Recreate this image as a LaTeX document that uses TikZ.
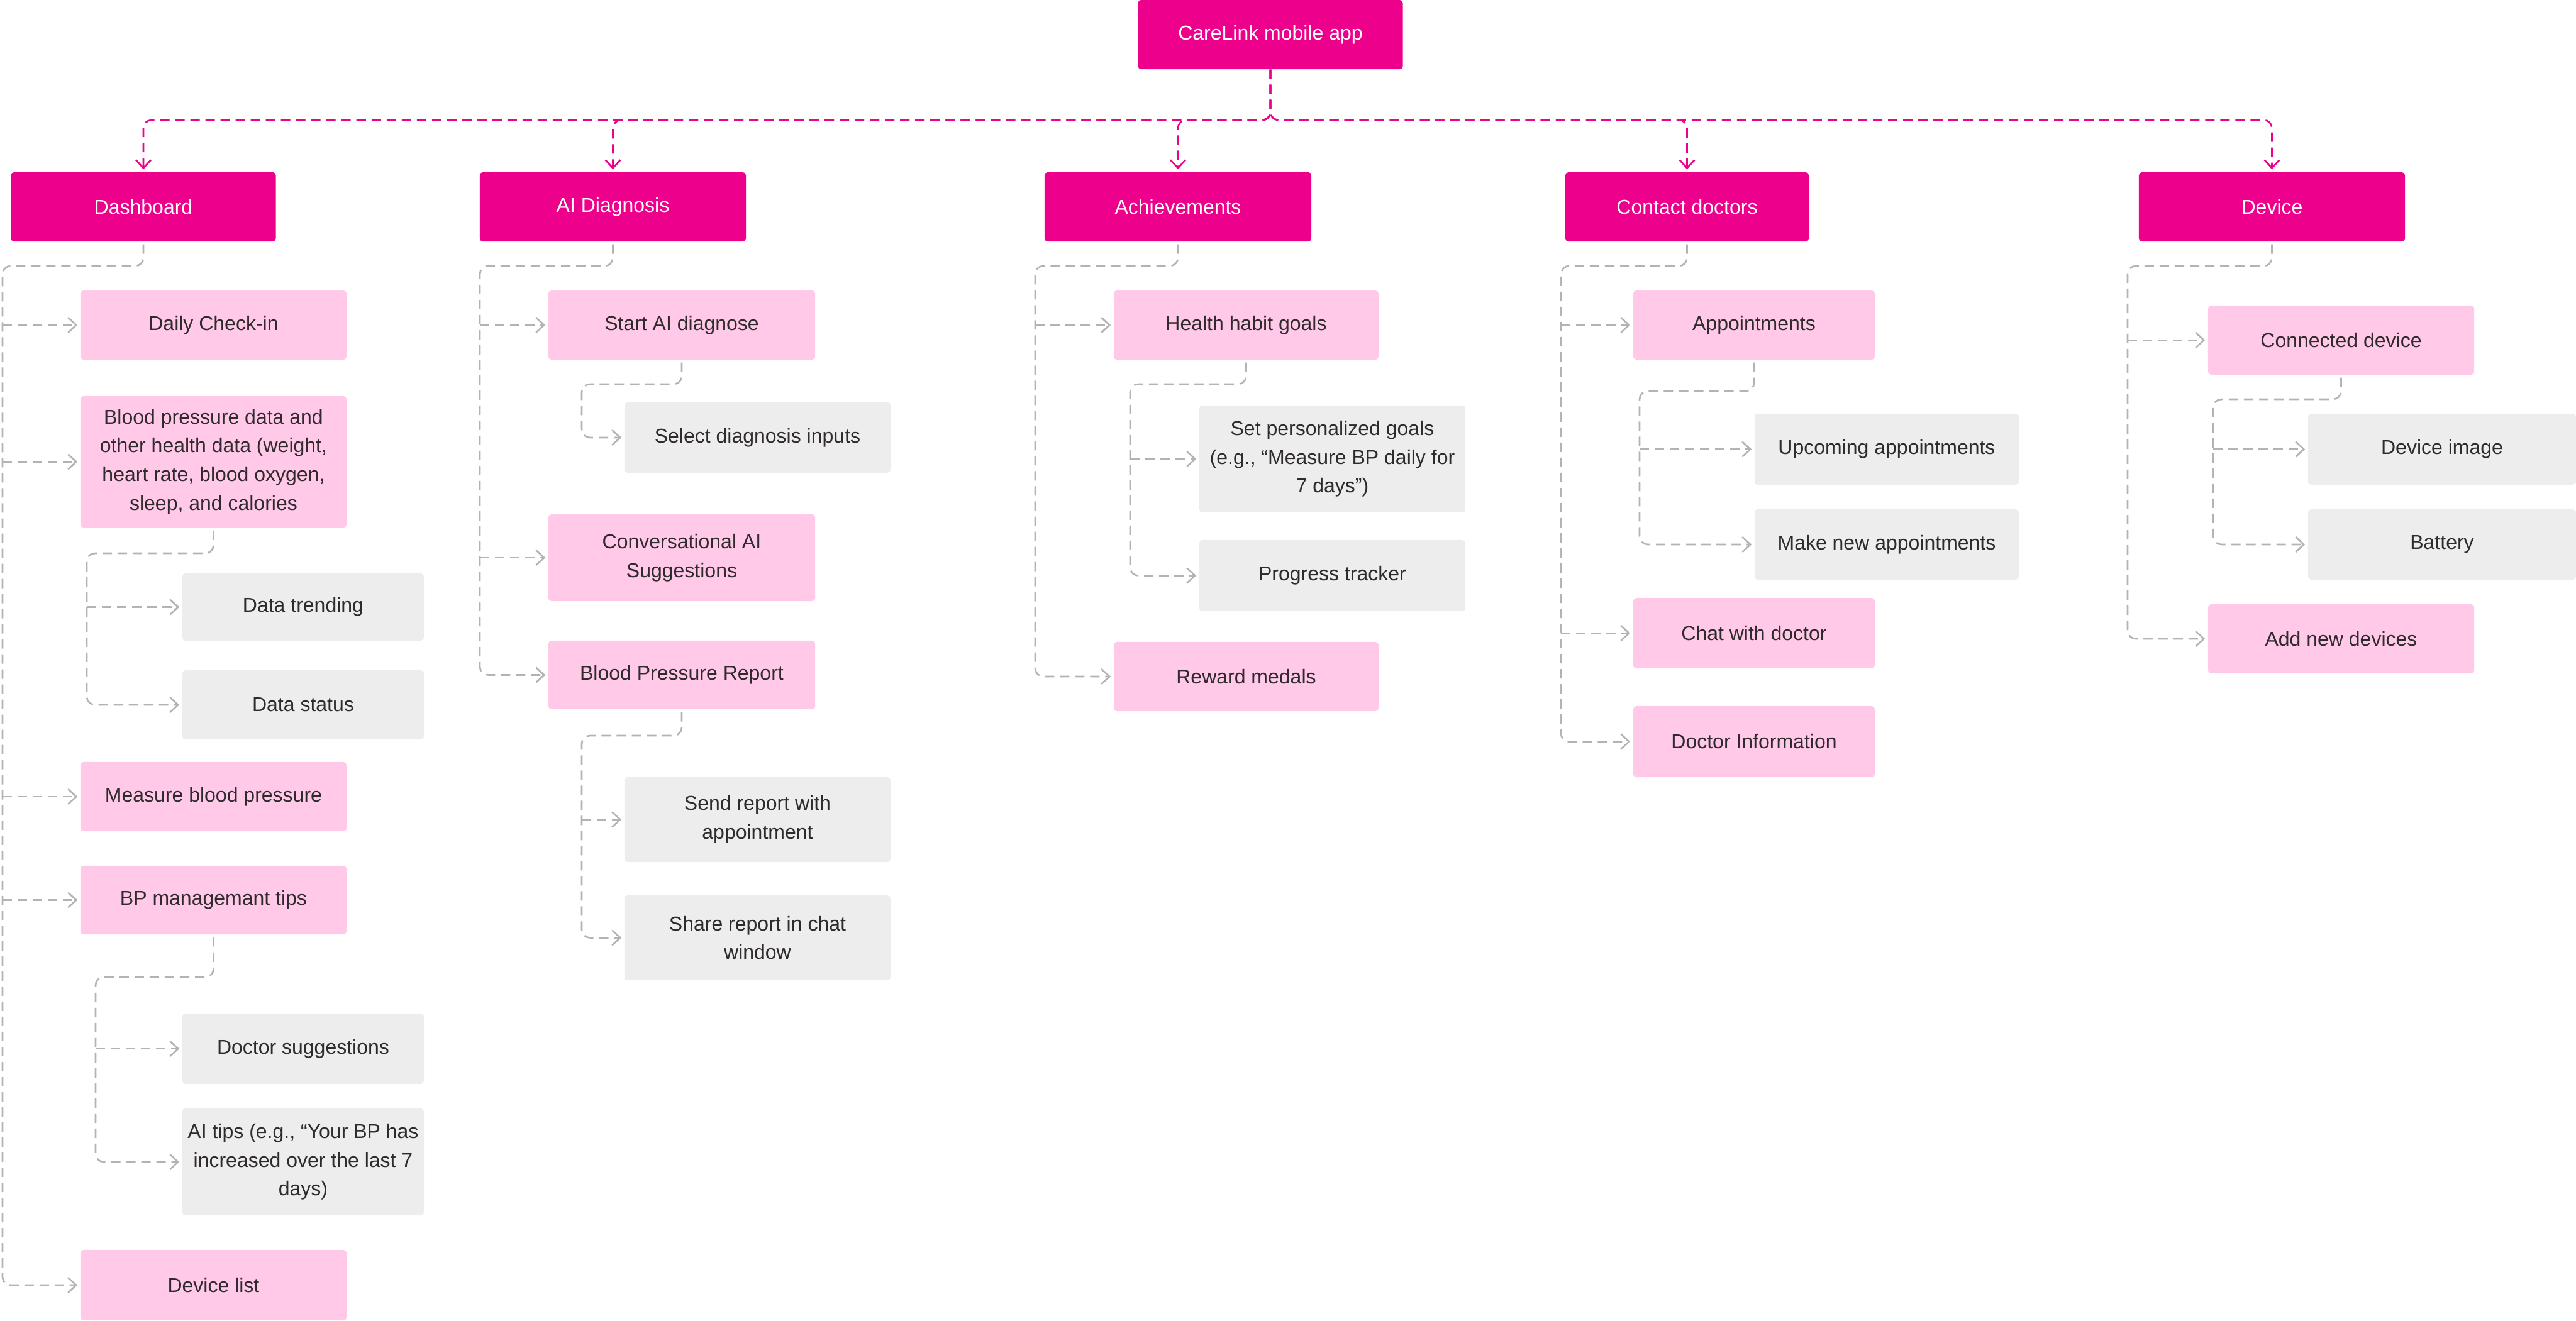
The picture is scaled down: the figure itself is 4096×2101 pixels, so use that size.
\documentclass[tikz,border=0pt]{standalone}
\usepackage{fontspec}
\setmainfont{Liberation Sans}
\usepackage{xcolor}
\usetikzlibrary{arrows.meta}

\definecolor{cmag}{HTML}{EC008C}
\definecolor{cpink}{HTML}{FFC9E7}
\definecolor{cgrey}{HTML}{EDEDED}
\definecolor{cline}{HTML}{B3B3B3}
\definecolor{ctext}{HTML}{2E2A2D}
\newcommand{\boxfont}{\fontsize{9.1pt}{13pt}\selectfont}

\tikzset{
  topbox/.style={fill=cmag, text=white, rounded corners=0.05cm, inner sep=0pt, align=center, font=\boxfont},
  subbox/.style={fill=cpink, text=ctext, rounded corners=0.05cm, inner sep=0pt, align=center, font=\boxfont},
  leafbox/.style={fill=cgrey, text=ctext, rounded corners=0.05cm, inner sep=0pt, align=center, font=\boxfont},
  mlink/.style={draw=cmag, line width=0.75pt, dash pattern=on 0.15cm off 0.09cm, rounded corners=0.13cm,
    -{Straight Barb[length=0.13cm,width=0.24cm]}, shorten >=0.04cm},
  glink/.style={draw=cline, line width=0.75pt, dash pattern=on 0.15cm off 0.09cm, rounded corners=0.13cm,
    -{Straight Barb[length=0.13cm,width=0.24cm]}, shorten >=0.04cm}
}

\begin{document}
\begin{tikzpicture}[x=0.01cm, y=-0.01cm]
\useasboundingbox (0,0) rectangle (4096,2101);

\node (root) at (2020,55)[topbox, minimum width=4.21cm, minimum height=1.1cm]{CareLink mobile app};

\node (dash) at (228,329)[topbox, minimum width=4.21cm, minimum height=1.1cm]{Dashboard};
\node (aidx) at (974.5,329)[topbox, minimum width=4.23cm, minimum height=1.1cm]{AI Diagnosis};
\node (ach) at (1873,329)[topbox, minimum width=4.24cm, minimum height=1.1cm]{Achievements};
\node (contact) at (2682.5,329)[topbox, minimum width=3.87cm, minimum height=1.1cm]{Contact doctors};
\node (device) at (3612.5,329)[topbox, minimum width=4.23cm, minimum height=1.1cm]{Device};

\coordinate (bus) at (2020,191);
\foreach \n in {dash,aidx,ach,contact,device}
  \draw[mlink] (root.south) -- (bus) -| (\n.north);

% Dashboard
\begin{scope}
\node (daily) at (339.5,517)[subbox, minimum width=4.23cm, minimum height=1.1cm]{Daily Check-in};
\node (bpdata) at (339.5,734.5)[subbox, minimum width=4.23cm, minimum height=2.09cm]{Blood pressure data and\\other health data (weight,\\heart rate, blood oxygen,\\sleep, and calories};
\node (trend) at (482,965.5)[leafbox, minimum width=3.84cm, minimum height=1.07cm]{Data trending};
\node (status) at (482,1121)[leafbox, minimum width=3.84cm, minimum height=1.1cm]{Data status};
\node (measure) at (339.5,1267)[subbox, minimum width=4.23cm, minimum height=1.1cm]{Measure blood pressure};
\node (tips) at (339.5,1431.5)[subbox, minimum width=4.23cm, minimum height=1.09cm]{BP managemant tips};
\node (docsug) at (482,1668)[leafbox, minimum width=3.84cm, minimum height=1.12cm]{Doctor suggestions};
\node (aitips) at (482,1848)[leafbox, minimum width=3.84cm, minimum height=1.7cm]{AI tips (e.g., “Your BP has\\increased over the last 7\\days)};
\node (devlist) at (339.5,2044)[subbox, minimum width=4.23cm, minimum height=1.12cm]{Device list};

\coordinate (dk) at (4,423);
\draw[glink, shorten <=0.04cm] (dash.south) |- (dk) |- (devlist.west);
\foreach \n in {daily,bpdata,measure,tips}
  \draw[glink] (dk |- \n.west) -- (\n.west);

\coordinate (bk) at (138,880);
\draw[glink, shorten <=0.04cm] (bpdata.south) |- (bk) |- (status.west);
\draw[glink] (bk |- trend.west) -- (trend.west);

\coordinate (tk) at (152,1554);
\draw[glink, shorten <=0.04cm] (tips.south) |- (tk) |- (aitips.west);
\draw[glink] (tk |- docsug.west) -- (docsug.west);
\end{scope}

% AI Diagnosis
\begin{scope}
\node (start) at (1084,517)[subbox, minimum width=4.24cm, minimum height=1.1cm]{Start AI diagnose};
\node (select) at (1204.5,696)[leafbox, minimum width=4.23cm, minimum height=1.12cm]{Select diagnosis inputs};
\node (conv) at (1084,887)[subbox, minimum width=4.24cm, minimum height=1.38cm]{Conversational AI\\Suggestions};
\node (bprep) at (1084,1073.5)[subbox, minimum width=4.24cm, minimum height=1.09cm]{Blood Pressure Report};
\node (send) at (1204.5,1303.5)[leafbox, minimum width=4.23cm, minimum height=1.35cm]{Send report with\\appointment};
\node (share) at (1204.5,1491.5)[leafbox, minimum width=4.23cm, minimum height=1.35cm]{Share report in chat\\window};

\coordinate (ak) at (763,423);
\draw[glink, shorten <=0.04cm] (aidx.south) |- (ak) |- (bprep.west);
\foreach \n in {start,conv}
  \draw[glink] (ak |- \n.west) -- (\n.west);

\coordinate (sk) at (925,611);
\draw[glink, shorten <=0.04cm] (start.south) |- (sk) |- (select.west);

\coordinate (rk) at (925,1170);
\draw[glink, shorten <=0.04cm] (bprep.south) |- (rk) |- (share.west);
\draw[glink] (rk |- send.west) -- (send.west);
\end{scope}

% Achievements
\begin{scope}
\node (habit) at (1981.5,517)[subbox, minimum width=4.21cm, minimum height=1.1cm]{Health habit goals};
\node (goals) at (2118.5,730)[leafbox, minimum width=4.23cm, minimum height=1.7cm]{Set personalized goals\\(e.g., “Measure BP daily for\\7 days”)};
\node (progress) at (2118.5,915.5)[leafbox, minimum width=4.23cm, minimum height=1.13cm]{Progress tracker};
\node (reward) at (1981.5,1076)[subbox, minimum width=4.21cm, minimum height=1.1cm]{Reward medals};

\coordinate (ck) at (1646,423);
\draw[glink, shorten <=0.04cm] (ach.south) |- (ck) |- (reward.west);
\draw[glink] (ck |- habit.west) -- (habit.west);

\coordinate (hk) at (1797,611);
\draw[glink, shorten <=0.04cm] (habit.south) |- (hk) |- (progress.west);
\draw[glink] (hk |- goals.west) -- (goals.west);
\end{scope}

% Contact doctors
\begin{scope}
\node (appts) at (2789,517)[subbox, minimum width=3.84cm, minimum height=1.1cm]{Appointments};
\node (upcoming) at (3000,714.5)[leafbox, minimum width=4.2cm, minimum height=1.13cm]{Upcoming appointments};
\node (makenew) at (3000,866)[leafbox, minimum width=4.2cm, minimum height=1.12cm]{Make new appointments};
\node (chat) at (2789,1007)[subbox, minimum width=3.84cm, minimum height=1.12cm]{Chat with doctor};
\node (docinfo) at (2789,1179.5)[subbox, minimum width=3.84cm, minimum height=1.13cm]{Doctor Information};

\coordinate (dck) at (2482,423);
\draw[glink, shorten <=0.04cm] (contact.south) |- (dck) |- (docinfo.west);
\foreach \n in {appts,chat}
  \draw[glink] (dck |- \n.west) -- (\n.west);

\coordinate (pk) at (2607,622);
\draw[glink, shorten <=0.04cm] (appts.south) |- (pk) |- (makenew.west);
\draw[glink] (pk |- upcoming.west) -- (upcoming.west);
\end{scope}

% Device
\begin{scope}
\node (conndev) at (3722.5,541)[subbox, minimum width=4.23cm, minimum height=1.1cm]{Connected device};
\node (devimg) at (3883,714.5)[leafbox, minimum width=4.26cm, minimum height=1.13cm]{Device image};
\node (battery) at (3883,866)[leafbox, minimum width=4.26cm, minimum height=1.12cm]{Battery};
\node (addnew) at (3722.5,1016)[subbox, minimum width=4.23cm, minimum height=1.1cm]{Add new devices};

\coordinate (vk) at (3383,423);
\draw[glink, shorten <=0.04cm] (device.south) |- (vk) |- (addnew.west);
\draw[glink] (vk |- conndev.west) -- (conndev.west);

\coordinate (ek) at (3519,635);
\draw[glink, shorten <=0.04cm] (conndev.south) |- (ek) |- (battery.west);
\draw[glink] (ek |- devimg.west) -- (devimg.west);
\end{scope}
\end{tikzpicture}
\end{document}
